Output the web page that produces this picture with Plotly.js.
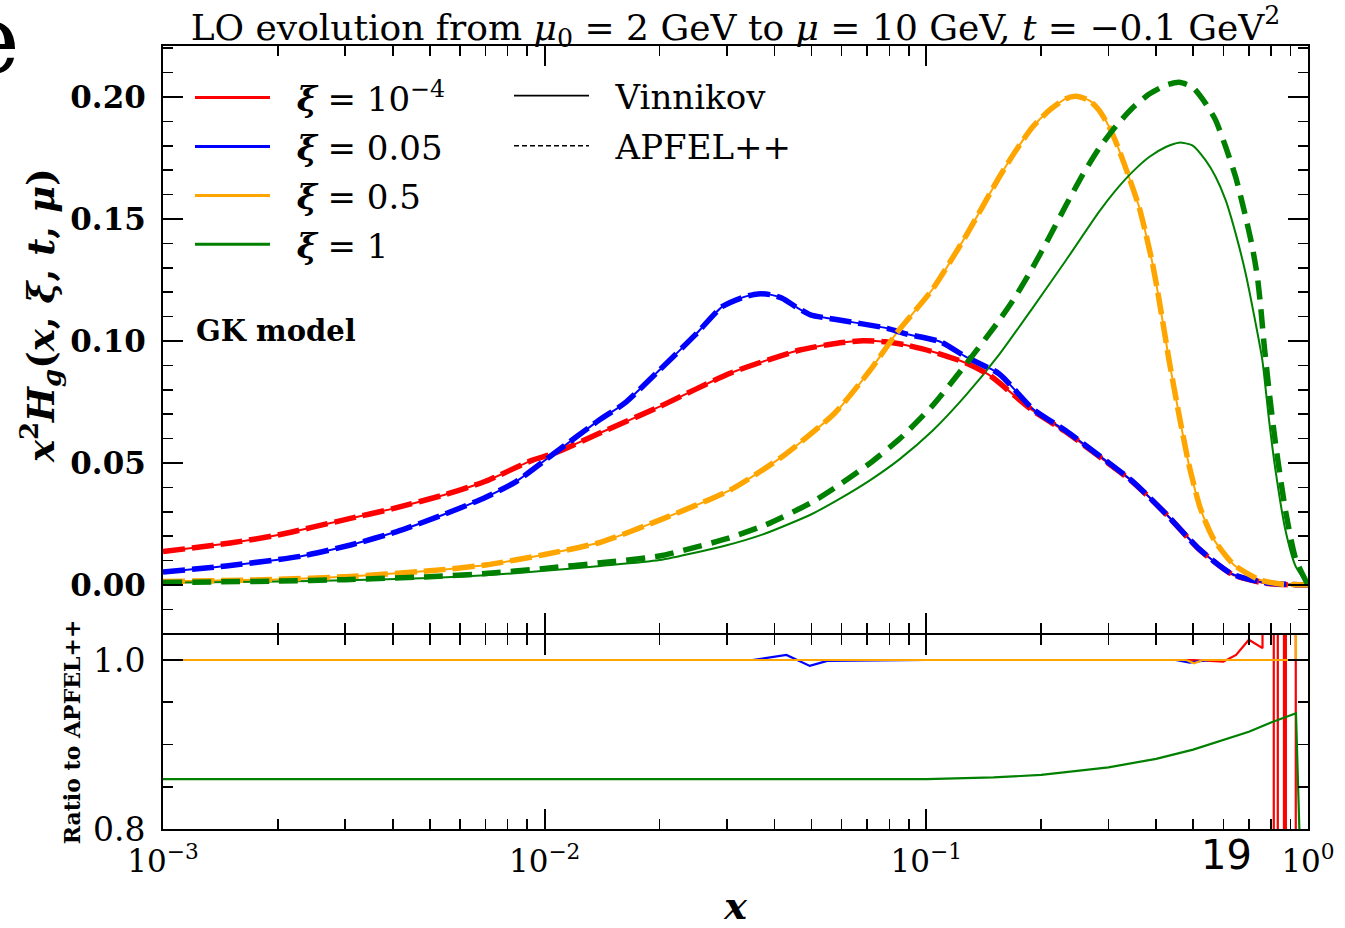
<!DOCTYPE html>
<html><head><meta charset="utf-8">
<script src="https://cdn.plot.ly/plotly-3.0.1.min.js"></script>
<style>html,body{margin:0;padding:0;background:#fff}#chart{width:1345px;height:928px}</style>
</head><body><div id="chart"></div>
<script>
// ---------- data ----------
// xi = 1e-4 (Vinnikov and APFEL++ coincide)
const xRed = [0.001, 0.0015, 0.002, 0.003, 0.004, 0.0055, 0.007, 0.0093, 0.0106, 0.014, 0.02, 0.0306, 0.0466, 0.058, 0.0683, 0.078, 0.088, 0.104, 0.127, 0.146, 0.19, 0.232, 0.284, 0.347, 0.424, 0.519, 0.632, 0.774, 0.9, 1.0];
const yRedVin = [0.0137, 0.0172, 0.0205, 0.0268, 0.0313, 0.0371, 0.0425, 0.0512, 0.0540, 0.0624, 0.0731, 0.0868, 0.0963, 0.0990, 0.1001, 0.0997, 0.0984, 0.0956, 0.0910, 0.0861, 0.0715, 0.0628, 0.0526, 0.0423, 0.0292, 0.0146, 0.0044, 0.0007, 0.0001, 0.0];
const yRedApf = [0.0137, 0.0172, 0.0205, 0.0268, 0.0313, 0.0371, 0.0425, 0.0512, 0.0540, 0.0624, 0.0731, 0.0868, 0.0963, 0.0990, 0.1001, 0.0997, 0.0984, 0.0956, 0.0910, 0.0861, 0.0715, 0.0628, 0.0526, 0.0423, 0.0292, 0.0146, 0.0044, 0.0007, 0.0001, 0.0];
// xi = 0.05
const xBlue = [0.001, 0.0015, 0.0023, 0.0031, 0.0041, 0.0054, 0.0069, 0.0084, 0.0106, 0.0139, 0.0162, 0.02, 0.0248, 0.0292, 0.0335, 0.0362, 0.039, 0.0419, 0.0455, 0.0497, 0.0575, 0.079, 0.0885, 0.1088, 0.127, 0.155, 0.19, 0.232, 0.284, 0.347, 0.424, 0.519, 0.632, 0.774, 0.9, 1.0];
const yBlueVin = [0.0053, 0.0080, 0.0118, 0.0164, 0.0219, 0.0287, 0.0355, 0.0423, 0.0540, 0.0676, 0.0745, 0.0881, 0.1025, 0.1141, 0.1182, 0.1193, 0.1190, 0.1175, 0.1140, 0.1107, 0.1089, 0.1052, 0.1029, 0.0997, 0.0935, 0.0866, 0.0722, 0.0632, 0.0530, 0.0425, 0.0292, 0.0147, 0.0045, 0.0009, 0.0002, 0.0];
const yBlueApf = [0.0053, 0.0080, 0.0118, 0.0164, 0.0219, 0.0287, 0.0355, 0.0423, 0.0540, 0.0676, 0.0745, 0.0881, 0.1025, 0.1141, 0.1182, 0.1193, 0.1190, 0.1175, 0.1140, 0.1107, 0.1089, 0.1052, 0.1029, 0.0997, 0.0935, 0.0866, 0.0722, 0.0632, 0.0530, 0.0425, 0.0292, 0.0147, 0.0045, 0.0009, 0.0002, 0.0];
// xi = 0.5
const xOrange = [0.001, 0.002, 0.003, 0.005, 0.007, 0.01, 0.014, 0.02, 0.0306, 0.0419, 0.0575, 0.0713, 0.0838, 0.1038, 0.127, 0.1553, 0.1717, 0.1898, 0.2099, 0.232, 0.2464, 0.2672, 0.2837, 0.3014, 0.3137, 0.3298, 0.3468, 0.361, 0.3758, 0.3914, 0.4074, 0.424, 0.4325, 0.459, 0.488, 0.519, 0.537, 0.568, 0.64, 0.745, 0.85, 1.0];
const yOrangeVin = [0.0014, 0.0023, 0.0034, 0.0058, 0.0082, 0.0125, 0.0175, 0.0266, 0.0389, 0.0526, 0.0704, 0.0881, 0.1035, 0.1212, 0.1431, 0.1672, 0.1781, 0.1877, 0.1945, 0.1993, 0.2003, 0.1986, 0.1945, 0.1877, 0.1816, 0.1727, 0.1631, 0.1549, 0.1440, 0.1317, 0.1167, 0.1003, 0.0921, 0.0700, 0.0490, 0.0328, 0.0265, 0.0184, 0.0082, 0.0022, 0.0004, 0.0];
const yOrangeApf = [0.0014, 0.0023, 0.0034, 0.0058, 0.0082, 0.0125, 0.0175, 0.0266, 0.0389, 0.0526, 0.0704, 0.0881, 0.1035, 0.1212, 0.1431, 0.1672, 0.1781, 0.1877, 0.1945, 0.1993, 0.2003, 0.1986, 0.1945, 0.1877, 0.1816, 0.1727, 0.1631, 0.1549, 0.1440, 0.1317, 0.1167, 0.1003, 0.0921, 0.0700, 0.0490, 0.0328, 0.0265, 0.0184, 0.0082, 0.0022, 0.0004, 0.0];
// xi = 1
const xGreenVin = [0.001, 0.002, 0.003, 0.005, 0.007, 0.01, 0.014, 0.02, 0.03, 0.038, 0.05, 0.06, 0.0713, 0.085, 0.1038, 0.127, 0.1553, 0.1898, 0.232, 0.2837, 0.3137, 0.3468, 0.3836, 0.424, 0.4595, 0.4978, 0.5395, 0.5731, 0.6088, 0.6464, 0.6867, 0.7294, 0.7594, 0.79, 0.822, 0.874, 0.929, 1.0];
const yGreenVin = [0.0009, 0.0014, 0.0019, 0.0029, 0.0040, 0.0058, 0.0078, 0.0102, 0.0163, 0.0212, 0.0290, 0.0358, 0.0430, 0.0515, 0.0632, 0.0778, 0.0945, 0.1135, 0.1330, 0.1530, 0.1618, 0.1693, 0.1754, 0.1795, 0.1813, 0.1802, 0.1740, 0.1672, 0.1576, 0.1440, 0.1276, 0.1071, 0.0921, 0.0680, 0.0470, 0.0220, 0.0075, 0.0];
const xGreenApf = [0.001, 0.002, 0.003, 0.005, 0.007, 0.01, 0.014, 0.02, 0.03, 0.038, 0.05, 0.06, 0.0713, 0.085, 0.1038, 0.127, 0.1553, 0.1717, 0.1898, 0.2099, 0.232, 0.2565, 0.2837, 0.3137, 0.3468, 0.3836, 0.424, 0.4595, 0.4978, 0.5395, 0.5731, 0.6088, 0.6464, 0.6867, 0.7147, 0.737, 0.7517, 0.767, 0.79, 0.822, 0.874, 0.929, 1.0];
const yGreenApf = [0.00105, 0.0016, 0.0022, 0.0034, 0.0047, 0.0068, 0.0091, 0.0119, 0.0190, 0.0247, 0.0338, 0.0417, 0.0500, 0.0598, 0.0735, 0.0905, 0.1085, 0.1185, 0.1300, 0.1425, 0.1555, 0.1680, 0.1790, 0.1880, 0.1955, 0.2012, 0.2048, 0.2060, 0.2041, 0.1973, 0.1904, 0.1795, 0.1672, 0.1508, 0.1385, 0.1262, 0.1139, 0.0989, 0.0800, 0.0580, 0.0300, 0.0105, 0.0];

// ratio panel (Vinnikov / APFEL++)
const xRatioRed = [0.001, 0.01, 0.1, 0.3, 0.5, 0.6, 0.648, 0.7, 0.76, 0.765, 0.812, 0.815, 0.832, 0.835, 0.864, 0.866, 0.874, 0.876, 0.928, 0.93];
const yRatioRed = [1.0, 1.0, 1.0, 1.0, 1.0, 0.998, 1.006, 1.024, 1.014, 50, 50, -50, -50, 50, 50, -50, -50, 50, 50, -50];
const xRatioBlue = [0.001, 0.035, 0.043, 0.0495, 0.055, 0.1, 0.45, 0.49, 0.51, 0.55, 0.93];
const yRatioBlue = [1.0, 1.0, 1.006, 0.993, 0.999, 1.0, 1.0, 0.997, 0.998, 1.0, 1.0];
const xRatioOrange = [0.001, 0.1, 0.45, 0.48, 0.503, 0.53, 0.93, 0.932];
const yRatioOrange = [1.0, 1.0, 1.0, 1.0, 0.996, 1.0, 1.0, 50];
const xRatioGreen = [0.001, 0.01, 0.1, 0.15, 0.2, 0.3, 0.4, 0.5, 0.6, 0.7, 0.8, 0.9, 0.93, 0.952];
const yRatioGreen = [0.859, 0.859, 0.859, 0.861, 0.864, 0.873, 0.883, 0.894, 0.905, 0.915, 0.926, 0.934, 0.937, 0.78];

// labels
const xiLabels = ['\u00a0\u00a0<b><i>ξ</i></b> = 10<sup>−4</sup>', '\u00a0\u00a0<b><i>ξ</i></b> = 0.05', '\u00a0\u00a0<b><i>ξ</i></b> = 0.5', '\u00a0\u00a0<b><i>ξ</i></b> = 1'];
const colors = ['#ff0000', '#0000ff', '#ffa500', '#008000'];
const methodLabels = ['\u00a0\u00a0Vinnikov', '\u00a0\u00a0APFEL++'];
const xMajor = [0.001, 0.01, 0.1, 1];
const xMajorText = ['10<sup>−3</sup>', '10<sup>−2</sup>', '10<sup>−1</sup>', '10<sup>0</sup>'];
const xMinor = [0.002,0.003,0.004,0.005,0.006,0.007,0.008,0.009,0.02,0.03,0.04,0.05,0.06,0.07,0.08,0.09,0.2,0.3,0.4,0.5,0.6,0.7,0.8,0.9];
const yTopTicks = [0, 0.05, 0.1, 0.15, 0.2];
const yTopText = ['<b>0.00</b>', '<b>0.05</b>', '<b>0.10</b>', '<b>0.15</b>', '<b>0.20</b>'];
const yBotTicks = [0.8, 1.0];
const yBotText = ['0.8', '1.0'];
const yBotMinor = [0.85, 0.9, 0.95];

// ---------- traces ----------
const series = [
  [xRed, yRedVin, xRed, yRedApf, xRatioRed, yRatioRed],
  [xBlue, yBlueVin, xBlue, yBlueApf, xRatioBlue, yRatioBlue],
  [xOrange, yOrangeVin, xOrange, yOrangeApf, xRatioOrange, yRatioOrange],
  [xGreenVin, yGreenVin, xGreenApf, yGreenApf, xRatioGreen, yRatioGreen]
];
const traces = [];
series.forEach((s, i) => {
  traces.push({x: s[0], y: s[1], mode: 'lines', xaxis: 'x', yaxis: 'y', showlegend: false, hoverinfo: 'skip',
    line: {color: colors[i], width: 2, shape: 'spline', smoothing: 0.6}});
});
series.forEach((s, i) => {
  traces.push({x: s[2], y: s[3], mode: 'lines', xaxis: 'x', yaxis: 'y', showlegend: false, hoverinfo: 'skip',
    line: {color: colors[i], width: 5.5, dash: i === 3 ? '19px,10px' : '22px,7px', shape: 'spline', smoothing: 0.6}});
});
series.forEach((s, i) => {
  traces.push({x: s[4], y: s[5], mode: 'lines', xaxis: 'x2', yaxis: 'y2', showlegend: false, hoverinfo: 'skip',
    line: {color: colors[i], width: 2.2}});
});
// legend entries
xiLabels.forEach((lab, i) => {
  traces.push({x: [null], y: [null], mode: 'lines', name: lab, legend: 'legend', legendgroup: 'g' + i,
    line: {color: colors[i], width: 3}, xaxis: 'x', yaxis: 'y'});
});
traces.push({x: [null], y: [null], mode: 'lines', name: methodLabels[0], legend: 'legend2', legendgroup: 'm0',
  line: {color: 'black', width: 1.6}, xaxis: 'x', yaxis: 'y'});
traces.push({x: [null], y: [null], mode: 'lines', name: methodLabels[1], legend: 'legend2', legendgroup: 'm1',
  line: {color: 'black', width: 1.6, dash: '5px,3px'}, xaxis: 'x', yaxis: 'y'});

// ---------- layout ----------
const W = 1345, H = 928, ML = 163, MR = 37, MT = 46, MB = 99;
const PW = W - ML - MR, PH = H - MT - MB;
const topBottomPx = 633, botTopPx = 635;   // shared boundary line drawn at 634
const px2x = p => (p - ML) / PW;
const py2y = p => (H - MB - p) / PH;

const axisCommon = {
  showline: true, linewidth: 2, linecolor: 'black', mirror: 'ticks',
  ticks: 'inside', tickwidth: 2, tickcolor: 'black', ticklen: 20,
  showgrid: false, zeroline: false, fixedrange: true
};
const legendCommon = {
  xanchor: 'left', yanchor: 'top', bgcolor: 'rgba(0,0,0,0)', borderwidth: 0,
  font: {family: 'DejaVu Serif', size: 34, color: 'black'}, itemwidth: 75,
  traceorder: 'grouped', itemclick: false, itemdoubleclick: false
};

const layout = {
  width: W, height: H,
  margin: {l: ML, r: MR, t: MT, b: MB},
  paper_bgcolor: 'white', plot_bgcolor: 'white',
  font: {family: 'DejaVu Serif', color: 'black', size: 28},
  title: {
    text: 'LO evolution from <i>μ</i><sub>0</sub> = 2 GeV to <i>μ</i> = 10 GeV, <i>t</i> = −0.1 GeV<sup>2</sup>',
    font: {family: 'DejaVu Serif', size: 36, color: 'black'},
    x: 0.5, xref: 'paper', xanchor: 'center', y: 1 - 27 / H, yref: 'container', yanchor: 'middle'
  },
  xaxis: Object.assign({}, axisCommon, {
    type: 'log', range: [-3, 0], anchor: 'y', domain: [0, 1], showticklabels: false,
    tickmode: 'array', tickvals: xMajor, ticktext: xMajorText,
    minor: {tickmode: 'array', tickvals: xMinor, ticks: 'inside', ticklen: 10, tickwidth: 1.6, tickcolor: 'black', showgrid: false}
  }),
  xaxis2: Object.assign({}, axisCommon, {
    type: 'log', range: [-3, 0], anchor: 'y2', domain: [0, 1], matches: 'x',
    tickmode: 'array', tickvals: xMajor, ticktext: xMajorText,
    tickfont: {family: 'DejaVu Serif', size: 31, color: 'black'}, ticklabelstandoff: 4,
    minor: {tickmode: 'array', tickvals: xMinor, ticks: 'inside', ticklen: 10, tickwidth: 1.6, tickcolor: 'black', showgrid: false},
    title: {text: '<b><i>x</i></b>', font: {family: 'DejaVu Serif', size: 38, color: 'black'}, standoff: 14}
  }),
  yaxis: Object.assign({}, axisCommon, {
    domain: [py2y(topBottomPx), 1], anchor: 'x', range: [-(topBottomPx - 585) / 2440, (585 - MT) / 2440],
    tickmode: 'array', tickvals: yTopTicks, ticktext: yTopText,
    tickfont: {family: 'DejaVu Serif', size: 31, color: 'black'}, ticklabelstandoff: 9,
    minor: {dtick: 0.01, tick0: 0, ticks: 'inside', ticklen: 10, tickwidth: 1.6, tickcolor: 'black', showgrid: false}
  }),
  yaxis2: Object.assign({}, axisCommon, {
    domain: [0, py2y(botTopPx)], anchor: 'x2', range: [0.8, 1 + (660 - botTopPx) / 845],
    tickmode: 'array', tickvals: yBotTicks, ticktext: yBotText,
    tickfont: {family: 'DejaVu Serif', size: 33, color: 'black'}, ticklabelstandoff: 9,
    minor: {tickmode: 'array', tickvals: yBotMinor, ticks: 'inside', ticklen: 10, tickwidth: 1.6, tickcolor: 'black', showgrid: false},
    title: {text: '<b>Ratio to APFEL++</b>', font: {family: 'DejaVu Serif', size: 22, color: 'black'}, standoff: 6}
  }),
  legend: Object.assign({}, legendCommon, {x: px2x(190), y: py2y(69), tracegroupgap: 1.7}),
  legend2: Object.assign({}, legendCommon, {x: px2x(509), y: py2y(67), tracegroupgap: 3}),
  annotations: [
    {text: '<b><i>x</i><sup>2</sup><i>H</i><sub><i>g</i></sub>(<i>x</i>, <i>ξ</i>, <i>t</i>, <i>μ</i>)</b>',
      xref: 'paper', yref: 'paper', x: px2x(40), y: py2y(316), xanchor: 'center', yanchor: 'middle', textangle: -90,
      showarrow: false, font: {family: 'DejaVu Serif', size: 37, color: 'black'}},
    {text: '<b>GK model</b>', xref: 'paper', yref: 'paper', x: px2x(194), y: py2y(331), xanchor: 'left', yanchor: 'middle',
      showarrow: false, font: {family: 'DejaVu Serif', size: 29, color: 'black'}},
    {text: '19', xref: 'paper', yref: 'paper', x: px2x(1226), y: py2y(855), xanchor: 'center', yanchor: 'middle',
      showarrow: false, font: {family: 'DejaVu Sans', size: 40, color: 'black'}},
    {text: 'e', xref: 'paper', yref: 'paper', x: px2x(22), y: py2y(40), xanchor: 'right', yanchor: 'middle',
      showarrow: false, font: {family: 'DejaVu Serif', size: 96, color: 'black'}}
  ]
};

Plotly.newPlot('chart', traces, layout, {displayModeBar: false, staticPlot: true});
</script></body></html>
